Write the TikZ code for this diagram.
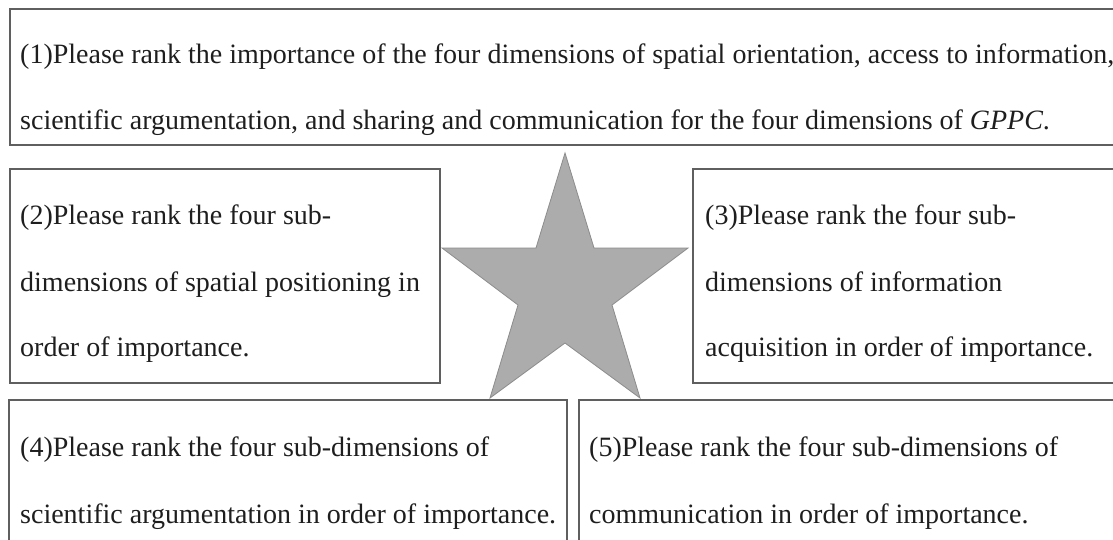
\documentclass[tikz,border=0pt]{standalone}
\usepackage{fontspec}
\setmainfont{Liberation Serif}
\definecolor{boxgray}{RGB}{95,95,95}
\definecolor{textgray}{RGB}{30,30,30}
\definecolor{starfill}{RGB}{172,172,172}
\definecolor{stardraw}{RGB}{140,140,140}
\begin{document}
\begin{tikzpicture}[x=1pt, y=-1pt,
    box/.style={draw=boxgray, line width=1.6pt, anchor=north west, inner sep=0pt},
    line/.style={anchor=base west, inner sep=0pt, text=textgray,
        font=\fontsize{28}{34}\selectfont}]
\useasboundingbox[fill=white] (0,0) rectangle (1113,540);
\node[box, minimum width=1120pt, minimum height=136pt] (q1) at (9,8) {};
\node[box, minimum width=430pt, minimum height=214pt] (q2) at (9,168) {};
\node[box, minimum width=440pt, minimum height=214pt] (q3) at (692,168) {};
\node[box, minimum width=558pt, minimum height=160pt] (q4) at (8,399) {};
\node[box, minimum width=545pt, minimum height=160pt] (q5) at (578,399) {};
% star in the middle
\draw[fill=starfill, draw=stardraw, line width=0.8pt]
    (565,153) -- (594,248) -- (688,248) -- (612,305) -- (640,398)
    -- (565,343) -- (490,398) -- (518,305) -- (442,248) -- (536,248) -- cycle;
\node[line] (q1a) at (20,64) {(1)Please rank the importance of the four dimensions of spatial orientation, access to information,};
\node[line] (q1b) at (20,130) {scientific argumentation, and sharing and communication for the four dimensions of \textit{GPPC}.};
\node[line] (q2a) at (20,225) {(2)Please rank the four sub-};
\node[line] (q2b) at (20,291) {dimensions of spatial positioning in};
\node[line] (q2c) at (20,356) {order of importance.};
\node[line] (q3a) at (705,225) {(3)Please rank the four sub-};
\node[line] (q3b) at (705,291) {dimensions of information};
\node[line] (q3c) at (705,356) {acquisition in order of importance.};
\node[line] (q4a) at (20,456) {(4)Please rank the four sub-dimensions of};
\node[line] (q4b) at (20,523) {scientific argumentation in order of importance.};
\node[line] (q5a) at (589,456) {(5)Please rank the four sub-dimensions of};
\node[line] (q5b) at (589,523) {communication in order of importance.};
\end{tikzpicture}
\end{document}
